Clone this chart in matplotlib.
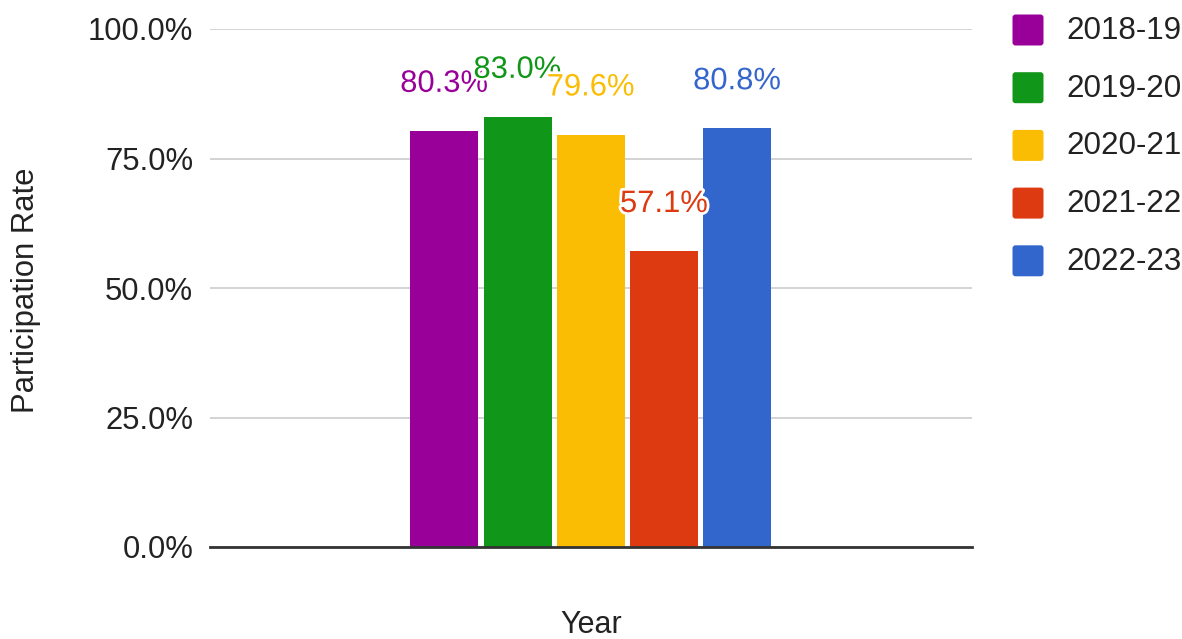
import matplotlib.pyplot as plt
import matplotlib.patheffects as pe
from matplotlib.patches import FancyBboxPatch
from matplotlib.ticker import FuncFormatter

plt.rcParams['font.family'] = ['Liberation Sans', 'DejaVu Sans']

years = ["2018-19", "2019-20", "2020-21", "2021-22", "2022-23"]
rates = [80.3, 83.0, 79.6, 57.1, 80.8]
colors = ["#990099", "#109618", "#fabd03", "#dd3a12", "#3366cc"]
y_ticks = [0, 25, 50, 75, 100]

W, H = 1182, 639
fig = plt.figure(figsize=(W / 100, H / 100), dpi=100)

# axes box in pixels: x 210..972, y 29..547
ax = fig.add_axes([210 / W, (H - 547) / H, (972 - 210) / W, (547 - 29) / H])

pos = list(range(len(rates)))
ax.bar(pos, rates, width=0.928, color=colors, zorder=3)

ax.set_xlim(-3.199, 7.204)
ax.set_ylim(0, 100)
ax.set_yticks(y_ticks)
ax.yaxis.set_major_formatter(FuncFormatter(lambda v, p: f"{v:.1f}%"))
ax.set_xticks([])
ax.tick_params(axis='y', length=0, pad=12, labelsize=22.3, labelcolor="#222222")
ax.grid(axis='y', color="#cccccc", linewidth=1.2, zorder=0)
for s in ["top", "right", "left"]:
    ax.spines[s].set_visible(False)
ax.spines["bottom"].set_color("#333333")
ax.spines["bottom"].set_linewidth(2)
ax.spines["bottom"].set_zorder(4)

# value labels above each bar, with white halo
for x, v, c in zip(pos, rates, colors):
    ax.annotate(f"{v:.1f}%", (x, v), xytext=(0, 34), textcoords="offset points",
                ha="center", va="center", fontsize=22.3, color=c, zorder=5,
                path_effects=[pe.withStroke(linewidth=4, foreground="white")])

fig.text(26 / W, 1 - 290 / H, "Participation Rate", rotation=90, ha="center",
         va="center", fontsize=22.3, color="#222222")
fig.text(591 / W, 1 - 625 / H, "Year", ha="center", va="center",
         fontsize=22, color="#222222")

# legend drawn in pixel coordinates
lg = fig.add_axes([0, 0, 1, 1], zorder=-1)
lg.set_xlim(0, W)
lg.set_ylim(H, 0)
lg.axis("off")
for i, (name, c) in enumerate(zip(years, colors)):
    yc = 30 + i * 57.7
    lg.add_patch(FancyBboxPatch((1014, yc - 14), 28, 28,
                                boxstyle="round,pad=1.5,rounding_size=3",
                                facecolor=c, edgecolor="none"))
    lg.text(1066, yc + 1, name, ha="left", va="center", fontsize=22.6,
            color="#222222")

fig.savefig("out.png", dpi=100)
